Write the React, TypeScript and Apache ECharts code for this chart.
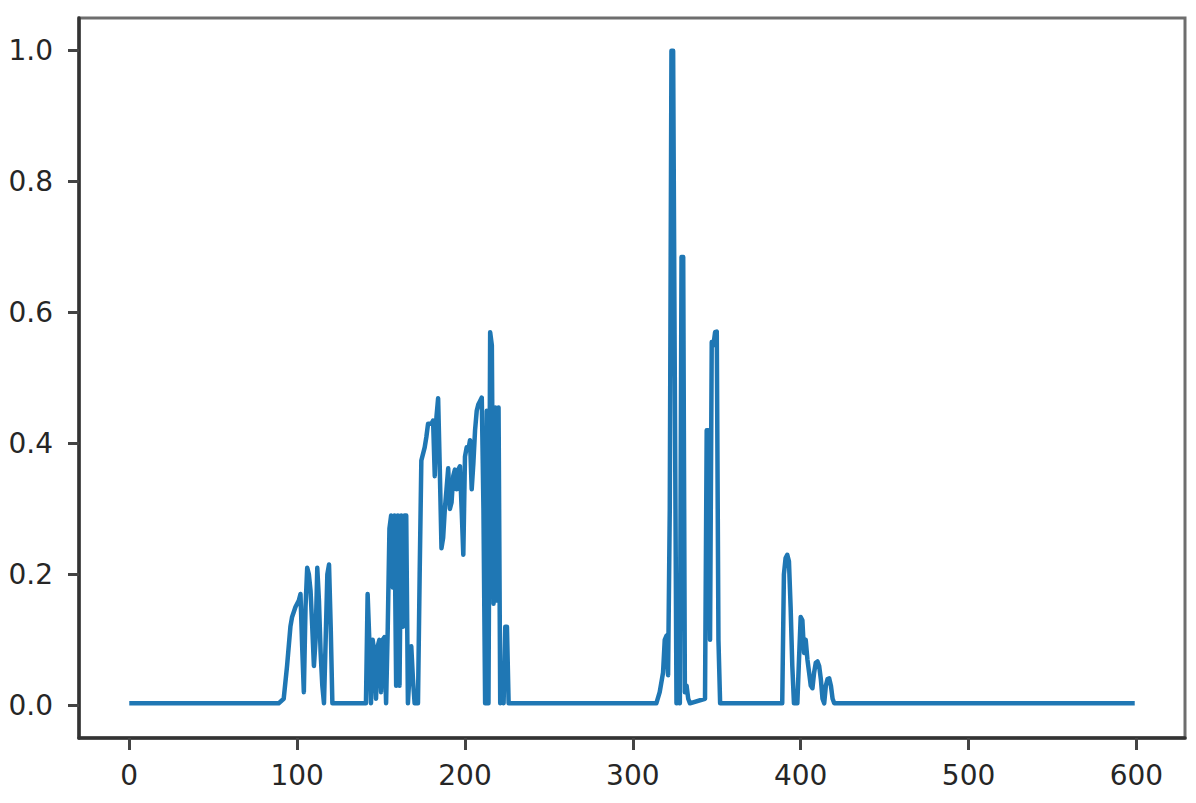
import React, { useEffect, useRef } from "react";
import * as echarts from "echarts";

// Line vertices (x = sample index, y = value)
const cluster1X = [0, 89, 92, 94, 96, 97, 99, 101, 102, 103, 104, 105, 106, 107, 108, 109, 110, 111, 112, 113, 114, 115, 116, 117, 118, 119, 120, 121];
const cluster1Y = [0.003, 0.003, 0.01, 0.06, 0.12, 0.135, 0.15, 0.16, 0.17, 0.09, 0.02, 0.15, 0.21, 0.2, 0.175, 0.12, 0.06, 0.1, 0.21, 0.16, 0.08, 0.03, 0.003, 0.1, 0.2, 0.215, 0.12, 0.003];

const cluster2X = [141, 142, 143, 144, 145, 146, 147, 148, 149, 150, 151, 152, 153, 154, 155, 156, 157, 158, 159, 160, 161, 162, 163, 164, 165, 166, 167, 168, 169, 170, 172];
const cluster2Y = [0.003, 0.17, 0.1, 0.003, 0.1, 0.08, 0.01, 0.09, 0.1, 0.02, 0.1, 0.104, 0.003, 0.12, 0.27, 0.29, 0.18, 0.29, 0.03, 0.29, 0.03, 0.29, 0.12, 0.29, 0.29, 0.003, 0.05, 0.09, 0.04, 0.003, 0.003];

const cluster3X = [173, 174, 176, 177, 178, 180, 181, 182, 183, 184, 185, 186, 187, 188, 189, 190, 191, 192, 193, 194, 195, 196, 197, 198, 199, 200, 201, 202, 203, 204, 205, 206, 207, 208, 209, 210, 211, 212, 213, 214, 215, 216, 217, 218, 219, 220, 221, 222, 223, 224, 225, 226];
const cluster3Y = [0.2, 0.374, 0.394, 0.41, 0.43, 0.43, 0.435, 0.35, 0.44, 0.469, 0.36, 0.24, 0.256, 0.3, 0.33, 0.362, 0.3, 0.31, 0.35, 0.36, 0.33, 0.36, 0.365, 0.3, 0.23, 0.38, 0.394, 0.39, 0.405, 0.33, 0.37, 0.42, 0.45, 0.46, 0.465, 0.47, 0.3, 0.003, 0.45, 0.003, 0.57, 0.55, 0.155, 0.455, 0.16, 0.455, 0.003, 0.05, 0.003, 0.12, 0.12, 0.003];

const cluster4X = [314, 316, 318, 319, 320, 321, 322, 323, 324, 325, 326, 327, 328, 329, 330, 331, 332, 333, 334];
const cluster4Y = [0.003, 0.02, 0.05, 0.1, 0.106, 0.046, 0.3, 1.0, 1.0, 0.5, 0.003, 0.02, 0.003, 0.685, 0.685, 0.02, 0.03, 0.01, 0.003];

const cluster5X = [343, 344, 345, 346, 347, 348, 349, 350, 351, 352];
const cluster5Y = [0.01, 0.42, 0.42, 0.1, 0.555, 0.55, 0.57, 0.571, 0.1, 0.003];

const cluster6X = [389, 390, 391, 392, 393, 394, 395, 396, 398, 399, 400, 401, 402, 403, 404, 405, 406, 407, 408, 409, 410, 411, 412, 413, 414, 415, 416, 417, 418, 419, 420, 599];
const cluster6Y = [0.003, 0.2, 0.225, 0.23, 0.22, 0.15, 0.06, 0.003, 0.003, 0.07, 0.135, 0.13, 0.08, 0.1, 0.07, 0.05, 0.03, 0.026, 0.05, 0.065, 0.067, 0.06, 0.04, 0.01, 0.003, 0.03, 0.04, 0.041, 0.03, 0.01, 0.003, 0.003];

const xTicks = [0, 100, 200, 300, 400, 500, 600];
const yTicks = [0, 0.2, 0.4, 0.6, 0.8, 1.0];

function buildPoints(): number[][] {
  const pts: number[][] = [];
  const groups: [number[], number[]][] = [
    [cluster1X, cluster1Y],
    [cluster2X, cluster2Y],
    [cluster3X, cluster3Y],
    [cluster4X, cluster4Y],
    [cluster5X, cluster5Y],
    [cluster6X, cluster6Y],
  ];
  groups.forEach(([xs, ys]) => {
    xs.forEach((x, i) => pts.push([x, ys[i]]));
  });
  return pts;
}

export default function App() {
  const ref = useRef<HTMLDivElement>(null);
  useEffect(() => {
    if (!ref.current) return;
    const chart = echarts.init(ref.current, null, { renderer: "svg" });
    const font = "DejaVu Sans";
    chart.setOption({
      animation: false,
      backgroundColor: "#ffffff",
      grid: {
        left: 79,
        right: 11,
        top: 18,
        bottom: 65,
        show: true,
        borderColor: "#6e6e6e",
        borderWidth: 3,
        backgroundColor: "transparent",
      },
      xAxis: {
        type: "value",
        min: -29.95,
        max: 628.95,
        splitLine: { show: false },
        axisLine: { show: true, onZero: false, lineStyle: { color: "#333333", width: 3.5 } },
        axisTick: {
          show: true,
          customValues: xTicks,
          length: 12,
          lineStyle: { color: "#444444", width: 3 },
        },
        axisLabel: {
          customValues: xTicks,
          margin: 23,
          color: "#262626",
          fontSize: 28,
          fontFamily: font,
          formatter: (v: number) => String(v),
        },
      },
      yAxis: {
        type: "value",
        min: -0.05,
        max: 1.05,
        splitLine: { show: false },
        axisLine: { show: true, onZero: false, lineStyle: { color: "#333333", width: 3.5 } },
        axisTick: {
          show: true,
          customValues: yTicks,
          length: 11,
          lineStyle: { color: "#444444", width: 3 },
        },
        axisLabel: {
          customValues: yTicks,
          margin: 26,
          color: "#262626",
          fontSize: 28,
          fontFamily: font,
          formatter: (v: number) => v.toFixed(1),
        },
      },
      series: [
        {
          type: "line",
          data: buildPoints(),
          showSymbol: false,
          symbol: "none",
          lineStyle: { color: "#1f77b4", width: 4.5, join: "round", cap: "butt" },
          emphasis: { disabled: true },
        },
      ],
    });
    return () => chart.dispose();
  }, []);
  return (
    <div
      ref={ref}
      style={{ position: "fixed", left: 0, top: 0, width: 1196, height: 803 }}
    />
  );
}
